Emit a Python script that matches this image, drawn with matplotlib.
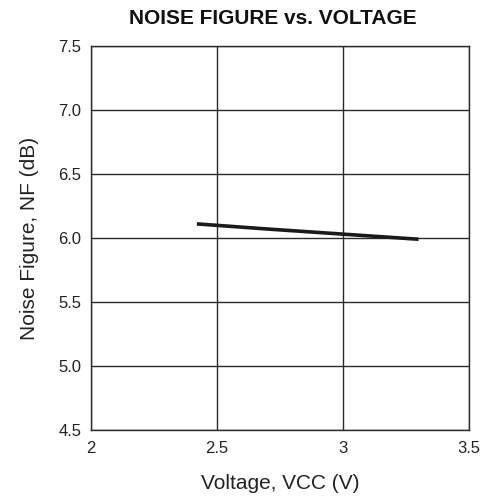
import matplotlib
matplotlib.use('Agg')
import matplotlib.pyplot as plt

plt.rcParams['font.family'] = ['Liberation Sans', 'DejaVu Sans']

# noise figure vs supply voltage
voltage = [2.42, 2.7, 3.0, 3.3]
nf = [6.11, 6.07, 6.03, 5.99]

xticks = [2, 2.5, 3, 3.5]
xtick_labels = ['2', '2.5', '3', '3.5']
yticks = [4.5, 5.0, 5.5, 6.0, 6.5, 7.0, 7.5]

fig = plt.figure(figsize=(4.9, 5.01), dpi=100)
ax = fig.add_axes([0.186, 0.142, 0.771, 0.766])

ax.plot(voltage, nf, color='#1a1a1a', linewidth=2.6, solid_capstyle='butt')

ax.set_xlim(2, 3.5)
ax.set_ylim(4.5, 7.5)
ax.set_xticks(xticks)
ax.set_xticklabels(xtick_labels)
ax.set_yticks(yticks)
ax.set_yticklabels(['%.1f' % v for v in yticks])
ax.grid(True, color='#2a2a2a', linewidth=1.0)
ax.tick_params(length=0, labelsize=12, colors='#222222')
ax.tick_params(axis='y', pad=7)
ax.tick_params(axis='x', pad=8)
for s in ax.spines.values():
    s.set_color('#2a2a2a')
    s.set_linewidth(1.0)

ax.set_xlabel('Voltage, VCC (V)', fontsize=15, color='#222222', labelpad=13)
ax.set_ylabel('Noise Figure, NF (dB)', fontsize=15, color='#222222', labelpad=14)
ax.set_title('NOISE FIGURE vs. VOLTAGE', fontsize=15, fontweight='bold', color='#111111', pad=16, x=0.48)

fig.savefig('out.png', dpi=100)
